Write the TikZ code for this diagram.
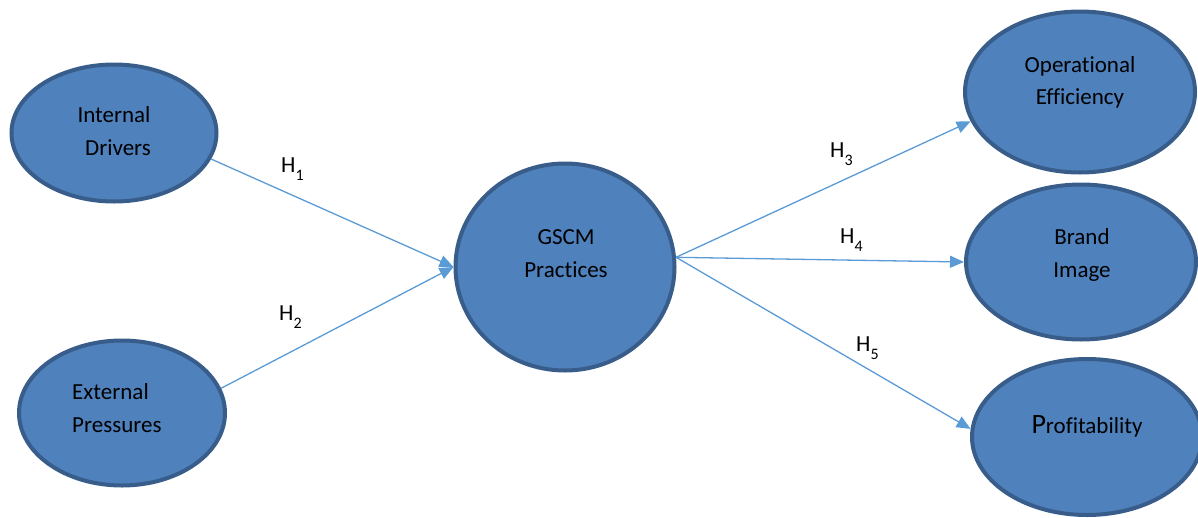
\documentclass[tikz,border=0pt]{standalone}
\usepackage{fontspec}
\setmainfont{Carlito}[Ligatures=CommonOff]
\usetikzlibrary{shapes.geometric,arrows.meta}
\definecolor{fillblue}{HTML}{4F81BD}
\definecolor{edgeblue}{HTML}{385D8A}
\definecolor{linkblue}{HTML}{5B9BD5}
\newcommand\hyplab[1]{H\raisebox{-8.5pt}{\fontsize{16}{16}\selectfont #1}}
\begin{document}
\begin{tikzpicture}[x=1pt,y=-1pt,
  construct/.style={ellipse, draw=edgeblue, fill=fillblue, line width=4pt, inner sep=0pt},
  lbl/.style={font=\fontsize{23}{28}\selectfont, text=black, inner sep=0pt, anchor=base},
  link/.style={draw=linkblue, line width=1.3pt, -{Triangle[length=14pt,width=12pt]}},
  hyp/.style={font=\fontsize{23}{28}\selectfont, text=black, inner sep=0pt, anchor=base west}]
\useasboundingbox (0,0) rectangle (1198,517);
% constructs
\node[construct, minimum width=205pt, minimum height=137pt] (id) at (114,133) {};
\node[construct, minimum width=206pt, minimum height=145pt] (ep) at (122,413) {};
\node[construct, minimum width=219pt, minimum height=207pt] (gscm) at (565,267) {};
\node[construct, minimum width=230pt, minimum height=161pt] (oe) at (1080,92) {};
\node[construct, minimum width=230pt, minimum height=155pt] (bi) at (1081,262) {};
\node[construct, minimum width=230pt, minimum height=156pt] (pr) at (1087,437) {};
% texts
\node[lbl] (idt1) at (114,122) {Internal};
\node[lbl] (idt2) at (118,155) {Drivers};
\node[lbl, anchor=base west] (ept1) at (72,399) {External};
\node[lbl, anchor=base west] (ept2) at (72,432) {Pressures};
\node[lbl] (gt1) at (566,244) {GSCM};
\node[lbl] (gt2) at (566,277) {Practices};
\node[lbl] (oet1) at (1080,72) {Operational};
\node[lbl] (oet2) at (1080,104) {Efficiency};
\node[lbl] (bit1) at (1082,244) {Brand};
\node[lbl] (bit2) at (1082,277) {Image};
\node[lbl] (prt) at (1087,433) {{\fontsize{28}{30}\selectfont P}rofitability};
% connectors
\draw[link] (id.-15) -- (gscm.west);
\draw[link] (ep.14) -- (gscm.west);
\draw[link] (gscm.5) -- (oe.195);
\draw[link] (gscm.5) -- (bi.west);
\draw[link] (gscm.5) -- (pr.176);
% hypothesis labels
\node[hyp] (h1) at (281,172) {\hyplab{1}};
\node[hyp] (h2) at (279,320) {\hyplab{2}};
\node[hyp] (h3) at (830,157) {\hyplab{3}};
\node[hyp] (h4) at (840,243) {\hyplab{4}};
\node[hyp] (h5) at (856,351) {\hyplab{5}};
\end{tikzpicture}
\end{document}
